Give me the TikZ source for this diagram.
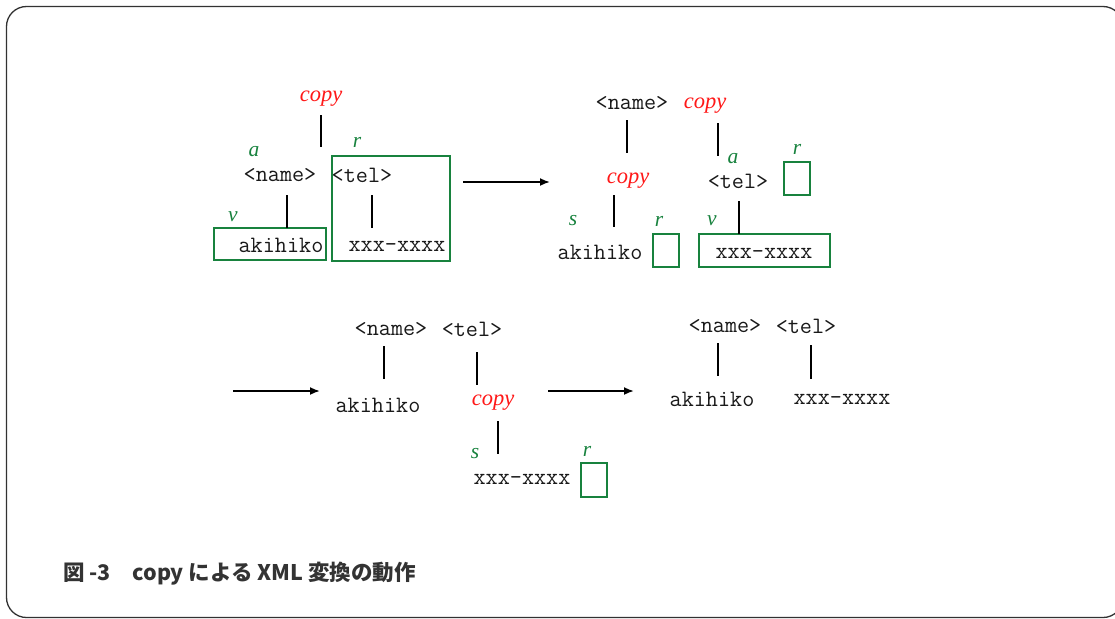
\documentclass[tikz,border=0pt]{standalone}
\usepackage{fontspec}
\setmainfont{Liberation Serif}
\newfontfamily\capfont{Noto Sans CJK JP}
\usetikzlibrary{arrows.meta}
\definecolor{xgreen}{RGB}{24,130,62}
\definecolor{xred}{RGB}{255,24,24}
\definecolor{framegray}{RGB}{50,50,50}
\tikzset{
  tag/.style={inner sep=0pt, text=black!90, font=\ttfamily\fontsize{23.5}{27}\selectfont},
  op/.style={inner sep=0pt, text=xred, yshift=-4pt, font=\itshape\fontsize{22.5}{26}\selectfont},
  lab/.style={inner sep=0pt, text=xgreen, yshift=-2pt, font=\itshape\fontsize{21.5}{25}\selectfont},
  edge/.style={line width=1.1pt, black},
  gbox/.style={draw=xgreen, line width=1.3pt},
  flow/.style={line width=1.8pt, -{Latex[length=10pt,width=8pt]}},
}
\begin{document}
\begin{tikzpicture}[x=1pt,y=-1pt]
\useasboundingbox (0,0) rectangle (1115,618);
\draw[framegray, line width=1.3pt, rounded corners=20pt] (6.5,6.5) rectangle (1123,617.5);

% ---------- panel 1 ----------
\node[op]  (p1copy) at (321,95) {copy};
\node[lab] (p1a) at (254,150) {a};
\node[tag] (p1name) at (280,175) {<name>};
\node[lab] (p1r) at (357,140) {r};
\node[tag] (p1tel) at (362,175) {<tel>};
\node[lab] (p1v) at (233,215) {v};
\node[tag] (p1aki) at (281,245) {akihiko};
\node[tag] (p1xxx) at (397,246) {xxx-xxxx};
\draw[gbox] (332,156) rectangle (450,261);
\draw[gbox] (214,228) rectangle (326,260);
\coordinate (p1l1a) at (321,115); \coordinate (p1l1b) at (321,147);
\coordinate (p1l2a) at (287,195); \coordinate (p1l2b) at (287,228);
\coordinate (p1l3a) at (372,195); \coordinate (p1l3b) at (372,228);
\draw[edge] (p1l1a) -- (p1l1b);
\draw[edge] (p1l2a) -- (p1l2b);
\draw[edge] (p1l3a) -- (p1l3b);
\coordinate (ar1a) at (463,182); \coordinate (ar1b) at (550,182);
\draw[flow] (ar1a) -- (ar1b);

% ---------- panel 2 ----------
\node[tag] (p2name) at (632,103) {<name>};
\node[op]  (p2copy) at (705,102) {copy};
\node[lab] (p2a) at (733,157) {a};
\node[lab] (p2r1) at (797,147) {r};
\node[op]  (p2copyb) at (628,177) {copy};
\node[tag] (p2tel) at (738,181) {<tel>};
\node[lab] (p2s) at (573,219) {s};
\node[lab] (p2r2) at (659,219) {r};
\node[lab] (p2v) at (712,219) {v};
\node[tag] (p2aki) at (600,252) {akihiko};
\node[tag] (p2xxx) at (764,253) {xxx-xxxx};
\draw[gbox] (784,162) rectangle (810,195);
\draw[gbox] (653,234) rectangle (679,267);
\draw[gbox] (699,234) rectangle (830,267);
\coordinate (p2l1a) at (627,120); \coordinate (p2l1b) at (627,153);
\coordinate (p2l2a) at (718,123); \coordinate (p2l2b) at (718,156);
\coordinate (p2l3a) at (614,195); \coordinate (p2l3b) at (614,227);
\coordinate (p2l4a) at (739,201); \coordinate (p2l4b) at (739,234);
\draw[edge] (p2l1a) -- (p2l1b);
\draw[edge] (p2l2a) -- (p2l2b);
\draw[edge] (p2l3a) -- (p2l3b);
\draw[edge] (p2l4a) -- (p2l4b);

% ---------- panel 3 ----------
\coordinate (ar2a) at (233,391); \coordinate (ar2b) at (320,391);
\draw[flow] (ar2a) -- (ar2b);
\node[tag] (p3name) at (391,329) {<name>};
\node[tag] (p3tel) at (472,329) {<tel>};
\node[tag] (p3aki) at (378,405) {akihiko};
\node[op]  (p3copy) at (493,399) {copy};
\node[lab] (p3s) at (475,452) {s};
\node[lab] (p3r) at (587,449) {r};
\node[tag] (p3xxx) at (522,479) {xxx-xxxx};
\draw[gbox] (581,463) rectangle (607,497);
\coordinate (p3l1a) at (384,346); \coordinate (p3l1b) at (384,379);
\coordinate (p3l2a) at (477,352); \coordinate (p3l2b) at (477,385);
\coordinate (p3l3a) at (498,421); \coordinate (p3l3b) at (498,454);
\draw[edge] (p3l1a) -- (p3l1b);
\draw[edge] (p3l2a) -- (p3l2b);
\draw[edge] (p3l3a) -- (p3l3b);
\coordinate (ar3a) at (548,391); \coordinate (ar3b) at (634,391);
\draw[flow] (ar3a) -- (ar3b);

% ---------- panel 4 ----------
\node[tag] (p4name) at (725,326) {<name>};
\node[tag] (p4tel) at (806,326) {<tel>};
\node[tag] (p4aki) at (712,399) {akihiko};
\node[tag] (p4xxx) at (842,399) {xxx-xxxx};
\coordinate (p4l1a) at (718,343); \coordinate (p4l1b) at (718,376);
\coordinate (p4l2a) at (811,345); \coordinate (p4l2b) at (811,379);
\draw[edge] (p4l1a) -- (p4l1b);
\draw[edge] (p4l2a) -- (p4l2b);

% ---------- caption ----------
\node[anchor=west, inner sep=0pt, text=black!80,
      font=\capfont\bfseries\fontsize{21.5}{26}\selectfont] (cap) at (63,574)
  {図 -3　copy による XML 変換の動作};
\end{tikzpicture}
\end{document}
